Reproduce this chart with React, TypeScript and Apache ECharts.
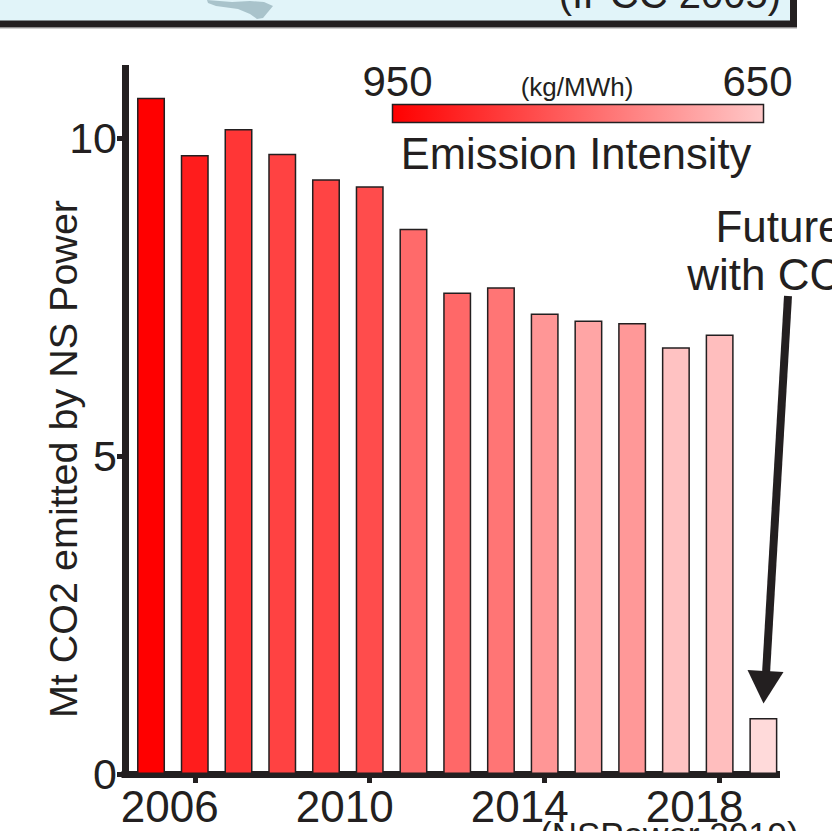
import React, { useEffect, useRef } from "react";
import * as echarts from "echarts";

const years = [2005, 2006, 2007, 2008, 2009, 2010, 2011, 2012, 2013, 2014, 2015, 2016, 2017, 2018, 2019];
const emissions = [10.63, 9.73, 10.14, 9.75, 9.35, 9.24, 8.57, 7.57, 7.65, 7.24, 7.13, 7.09, 6.71, 6.91, 0.88];
const intensity = [950, 908, 869, 851, 848, 836, 791, 794, 774, 725, 702, 722, 659, 665, 623];
const xTickYears = [2006, 2010, 2014, 2018];
const yTicks = [0, 5, 10];
const legendMax = 950;
const legendMin = 650;

const FONT = "'Liberation Sans', Arial, Helvetica, sans-serif";
const INK = "#231f20";

function colorFor(v: number): string {
  const g = Math.max(0, Math.min(255, Math.round(((legendMax - v) / (legendMax - legendMin)) * 200)));
  return `rgb(255,${g},${g})`;
}

export default function App() {
  const ref = useRef<HTMLDivElement>(null);
  useEffect(() => {
    if (!ref.current) return;
    const chart = echarts.init(ref.current, null, { renderer: "svg" });
    chart.setOption({
      animation: false,
      backgroundColor: "#ffffff",
      grid: { left: 125, right: 55.5, top: 68.5, bottom: 57, containLabel: false },
      xAxis: {
        type: "value",
        min: 2004.405,
        max: 2019.3,
        axisLine: { show: true, lineStyle: { color: INK, width: 7, cap: "square" } },
        axisTick: { show: true, customValues: xTickYears, length: 9, lineStyle: { color: INK, width: 5 } },
        axisLabel: {
          customValues: xTickYears,
          color: INK,
          fontSize: 44,
          fontFamily: FONT,
          margin: 10,
          padding: [0, 50, 0, 0],
          formatter: (v: number) => String(v),
        },
        splitLine: { show: false },
      },
      yAxis: {
        type: "value",
        min: 0,
        max: 11.09,
        axisLine: { show: true, lineStyle: { color: INK, width: 7, cap: "square" } },
        axisTick: { show: true, customValues: yTicks, length: 8, lineStyle: { color: INK, width: 5 } },
        axisLabel: {
          customValues: yTicks,
          color: INK,
          fontSize: 43,
          fontFamily: FONT,
          margin: 8,
        },
        splitLine: { show: false },
      },
      series: [
        {
          type: "bar",
          barWidth: 28,
          z: 1,
          data: years.map((y, i) => ({
            value: [y, emissions[i]],
            itemStyle: { color: colorFor(intensity[i]), borderColor: INK, borderWidth: 1.5 },
          })),
        },
      ],
      graphic: [
        // top box (cut off)
        {
          type: "rect",
          z: 10,
          shape: { x: -10, y: -30, width: 803.5, height: 54 },
          style: { fill: "#e1f4f9", stroke: INK, lineWidth: 7 },
        },
        {
          type: "line",
          z: 10,
          shape: { x1: 0, y1: 28.5, x2: 797, y2: 28.5 },
          style: { stroke: "#d0d0d0", lineWidth: 1 },
        },
        {
          type: "polygon",
          z: 11,
          shape: {
            points: [
              [207, 0], [232, 2], [250, 1], [264, 2], [273, 6], [268, 12], [263, 18],
              [257, 19], [250, 14], [238, 9], [216, 6], [208, 3],
            ],
          },
          style: { fill: "#a9c3cb" },
        },
        {
          type: "text",
          z: 11,
          x: 781,
          y: -6,
          style: { text: "(IPCC 2005)", fill: INK, font: `40px ${FONT}`, align: "right", verticalAlign: "middle" },
        },
        // y-axis name
        {
          type: "text",
          z: 5,
          x: 63,
          y: 459,
          rotation: Math.PI / 2,
          style: {
            text: "Mt CO2 emitted by NS Power",
            fill: INK,
            font: `39.5px ${FONT}`,
            align: "center",
            verticalAlign: "middle",
          },
        },
        // colour legend
        {
          type: "rect",
          z: 5,
          shape: { x: 392.5, y: 104.5, width: 371, height: 18 },
          style: {
            fill: new echarts.graphic.LinearGradient(0, 0, 1, 0, [
              { offset: 0, color: colorFor(legendMax) },
              { offset: 1, color: colorFor(legendMin) },
            ]),
            stroke: INK,
            lineWidth: 1.5,
          },
        },
        {
          type: "text",
          z: 5,
          x: 397.5,
          y: 81,
          style: { text: String(legendMax), fill: INK, font: `42px ${FONT}`, align: "center", verticalAlign: "middle" },
        },
        {
          type: "text",
          z: 5,
          x: 757.5,
          y: 81,
          style: { text: String(legendMin), fill: INK, font: `42px ${FONT}`, align: "center", verticalAlign: "middle" },
        },
        {
          type: "text",
          z: 5,
          x: 577,
          y: 87,
          style: { text: "(kg/MWh)", fill: INK, font: `26px ${FONT}`, align: "center", verticalAlign: "middle" },
        },
        {
          type: "text",
          z: 5,
          x: 576,
          y: 154,
          style: { text: "Emission Intensity", fill: INK, font: `43.5px ${FONT}`, align: "center", verticalAlign: "middle" },
        },
        // future annotation
        {
          type: "text",
          z: 5,
          x: 779,
          y: 226,
          style: { text: "Future", fill: INK, font: `44px ${FONT}`, align: "center", verticalAlign: "middle" },
        },
        {
          type: "text",
          z: 5,
          x: 779,
          y: 274,
          style: { text: "with CCS", fill: INK, font: `44px ${FONT}`, align: "center", verticalAlign: "middle" },
        },
        {
          type: "line",
          z: 5,
          shape: { x1: 788, y1: 296, x2: 766, y2: 674 },
          style: { stroke: INK, lineWidth: 8 },
        },
        {
          type: "polygon",
          z: 5,
          shape: { points: [[747.5, 670], [783.5, 672], [763.5, 703.5]] },
          style: { fill: INK },
        },
        // source (cut off at bottom)
        {
          type: "text",
          z: 5,
          x: 540,
          y: 816.5,
          style: { text: "(NSPower 2019)", fill: INK, font: `35px ${FONT}`, align: "left", verticalAlign: "top" },
        },
      ],
    });
    return () => chart.dispose();
  }, []);
  return (
    <div
      ref={ref}
      style={{ position: "absolute", left: 0, top: 0, width: 832, height: 831, background: "#fff" }}
    />
  );
}
